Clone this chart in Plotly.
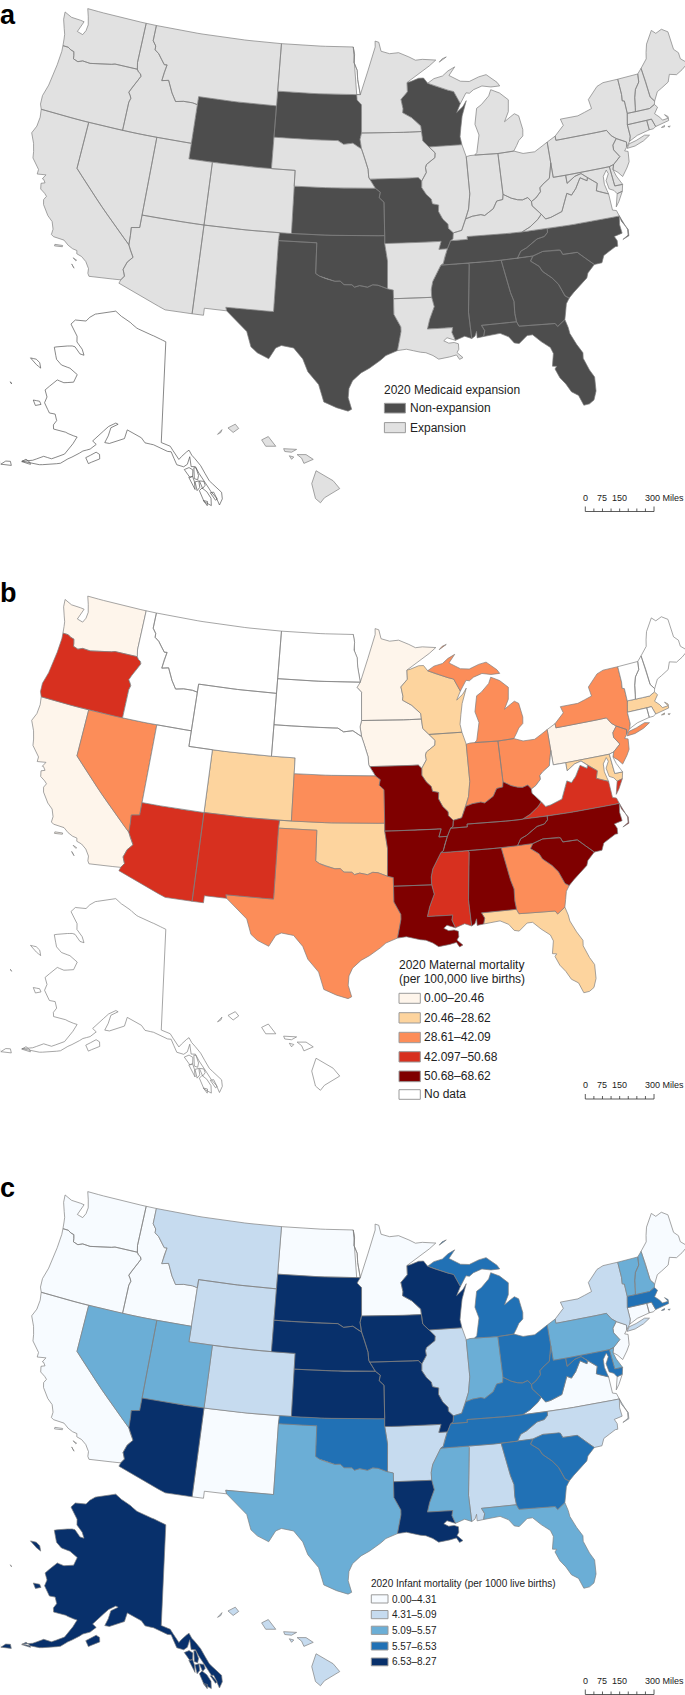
import numpy as np
import plotly.graph_objects as go

# ---------- shared borders (lon, lat) ----------
COLUMBIA = [(-124.0,46.27),(-123.5,46.27),(-123.2,46.15),(-122.9,46.1),(-122.8,45.85),(-122.75,45.65),(-122.3,45.55),(-121.9,45.68),(-121.2,45.65),(-120.6,45.73),(-119.9,45.85),(-119.3,45.93),(-119.0,46.0),(-116.92,46.0)]
SNAKE = [(-116.92,46.0),(-116.78,45.85),(-116.55,45.75),(-116.47,45.6),(-116.67,45.3),(-116.85,45.0),(-117.05,44.75),(-117.22,44.45),(-117.03,44.25),(-116.93,44.1),(-117.03,43.83)]
BITTERROOT = [(-116.05,49),(-116.05,48.0),(-115.72,47.7),(-115.7,47.45),(-115.3,47.25),(-114.95,46.93),(-114.6,46.63),(-114.35,46.65),(-114.48,46.15),(-114.55,45.6),(-113.95,45.7),(-113.45,44.95),(-113.0,44.45),(-112.3,44.55),(-111.5,44.55),(-111.05,44.48)]
COLORADO_R = [(-114.72,32.72),(-114.5,33.0),(-114.7,33.4),(-114.5,33.9),(-114.13,34.27),(-114.45,34.7),(-114.63,35.0)]
COLORADO_N = [(-114.63,35.0),(-114.65,35.6),(-114.7,36.1),(-114.35,36.15),(-114.05,36.2)]
RED_N = [(-97.23,49),(-97.1,48.5),(-97.15,48),(-96.85,47.5),(-96.8,46.9),(-96.56,45.94)]
SD_NE = [(-104.05,43),(-98.5,43),(-98,42.77),(-97.2,42.85),(-96.7,42.6),(-96.45,42.49)]
MISSOURI_IA = [(-96.45,42.49),(-96.25,42.05),(-96.1,41.7),(-95.9,41.2),(-95.85,40.7),(-95.77,40.58)]
MISSOURI_KS = [(-95.31,40.0),(-94.9,39.75),(-95.0,39.4),(-94.61,39.11)]
BIG_SIOUX = [(-96.45,43.5),(-96.58,43.1),(-96.45,42.49)]
RED_S = [(-94.48,33.64),(-95.2,33.87),(-95.6,33.9),(-96.0,33.75),(-96.6,33.85),(-97.0,33.75),(-97.2,33.9),(-97.8,33.9),(-98.1,34.12),(-98.5,34.1),(-99.2,34.25),(-99.7,34.4),(-100.0,34.56)]
SABINE = [(-94.04,33.0),(-94.04,32.0),(-93.55,31.2),(-93.55,30.9),(-93.7,30.3),(-93.85,29.7)]
MISS_MN = [(-92.8,44.75),(-92.0,44.4),(-91.25,43.85),(-91.22,43.5)]
MISS_WI = [(-91.22,43.5),(-91.15,42.9),(-90.64,42.5)]
MISS_IL_IA = [(-90.64,42.5),(-90.15,42.1),(-90.2,41.8),(-90.95,41.4),(-91.05,41.2),(-91.0,40.9),(-91.42,40.38)]
MISS_IL_MO = [(-91.42,40.38),(-91.45,39.95),(-91.1,39.5),(-90.72,39.2),(-90.65,38.9),(-90.15,38.8),(-90.2,38.4),(-89.9,37.9),(-89.5,37.55),(-89.5,37.3),(-89.13,36.98)]
MISS_AR = [(-89.7,36.0),(-89.95,35.5),(-90.1,35.1),(-90.3,35.0)]
MISS_AR2 = [(-90.3,35.0),(-90.6,34.6),(-91.0,34.0),(-91.15,33.5),(-91.15,33.0)]
MISS_LA = [(-91.15,33.0),(-91.0,32.4),(-91.4,31.6),(-91.6,31.0)]
ST_CROIX = [(-92.29,46.66),(-92.29,46.07),(-92.9,45.6),(-92.75,45.0),(-92.8,44.75)]
OHIO_IL = [(-89.13,36.98),(-88.45,37.1),(-88.05,37.8)]
OHIO_IN = [(-88.05,37.8),(-87.5,37.93),(-86.8,37.98),(-86.5,37.9),(-86.3,38.0),(-85.75,38.27),(-85.4,38.73),(-84.9,38.78),(-84.82,39.1)]
OHIO_OH = [(-84.82,39.1),(-84.2,38.8),(-83.7,38.65),(-83.3,38.6),(-82.85,38.7),(-82.6,38.42)]
OHIO_WV = [(-82.6,38.42),(-82.2,38.6),(-81.75,38.95),(-81.75,39.2),(-81.45,39.4),(-80.85,39.7),(-80.67,40.2),(-80.52,40.64)]
WABASH = [(-88.05,37.8),(-87.75,38.4),(-87.53,39.35)]
SAVANNAH = [(-83.11,35.0),(-83.35,34.7),(-82.75,34.3),(-82.55,33.95),(-81.9,33.45),(-81.5,33.0),(-81.15,32.2),(-80.87,32.03)]
CHATT = [(-85.6,34.98),(-85.18,32.87),(-85.0,32.3),(-85.05,31.54),(-85.0,31.0)]
POTOMAC = [(-76.33,38.05),(-77.0,38.3),(-77.25,38.4),(-77.05,38.85),(-77.5,39.15),(-77.75,39.32)]
MD_WV = [(-77.75,39.32),(-78.2,39.65),(-78.75,39.55),(-79.48,39.2),(-79.48,39.72)]
VA_WV = [(-77.75,39.32),(-77.83,39.13),(-78.35,39.4),(-78.87,38.77),(-79.3,38.42),(-79.65,38.58),(-80.3,37.5),(-81.25,37.25),(-81.68,37.2),(-81.97,37.54)]
TUG = [(-81.97,37.54),(-82.6,38.15),(-82.6,38.42)]
KY_VA = [(-83.68,36.6),(-83.0,36.85),(-82.3,37.25),(-81.97,37.54)]
KY_TN = [(-89.4,36.5),(-88.07,36.5),(-88.07,36.68),(-86.5,36.65),(-85.0,36.62),(-83.68,36.6)]
TN_NC = [(-84.32,34.99),(-84.0,35.4),(-83.5,35.57),(-83.1,35.78),(-82.6,36.03),(-82.0,36.12),(-81.7,36.35),(-81.68,36.59)]
NC_SC = [(-83.11,35.0),(-82.3,35.2),(-81.05,35.15),(-80.93,35.1),(-80.8,34.82),(-79.67,34.8),(-78.55,33.85)]
DELAWARE_R = [(-75.4,39.8),(-74.75,40.2),(-75.13,40.7),(-75.1,41.0),(-74.7,41.36)]
CT_R = [(-71.5,45.01),(-71.6,44.5),(-72.05,44.1),(-72.3,43.6),(-72.45,43.0),(-72.55,42.73)]
MI_WI = [(-90.4,46.55),(-89.1,46.14),(-88.1,45.9),(-87.8,45.35),(-87.6,45.1)]

# ---------- state outlines (lon, lat) ----------
STATES = {
 'WA': [COLUMBIA + [(-117.04,46.42),(-117.04,49),(-122.76,49),(-122.5,48.5),(-122.3,48.0),(-122.35,47.6),(-122.55,47.3),(-123.1,47.4),(-122.75,48.12),(-123.1,48.15),(-124.0,48.17),(-124.72,48.38),(-124.65,47.9),(-124.35,47.35),(-124.15,47.0),(-124.08,46.7)]],
 'OR': [COLUMBIA + SNAKE + [(-117.03,42),(-124.21,42),(-124.4,42.3),(-124.45,42.85),(-124.2,43.6),(-124.1,44.3),(-124.0,45.0),(-123.95,45.9)]],
 'CA': [[(-124.21,42),(-120,42),(-120,39),(-114.63,35)] + COLORADO_R[::-1] + [(-117.12,32.53),(-117.25,32.7),(-117.28,33.0),(-117.6,33.4),(-118.0,33.65),(-118.4,33.75),(-118.45,33.95),(-118.8,34.0),(-119.2,34.15),(-119.6,34.4),(-120.45,34.45),(-120.65,34.55),(-120.63,34.9),(-120.85,35.35),(-121.3,35.65),(-121.85,36.25),(-121.95,36.55),(-121.8,36.8),(-122.0,36.95),(-122.4,37.15),(-122.5,37.5),(-122.2,37.6),(-122.4,37.8),(-122.5,37.8),(-122.3,38.1),(-123.0,38.0),(-123.0,38.3),(-123.7,38.9),(-123.8,39.3),(-124.0,39.8),(-124.4,40.4),(-124.15,40.9),(-124.1,41.5)],
        [(-120.2,34.0),(-119.6,34.05),(-119.6,33.97),(-120.2,33.9)],
        [(-118.6,33.45),(-118.3,33.35),(-118.35,33.3)],
        [(-118.6,33.05),(-118.35,32.82),(-118.5,33.0)]],
 'NV': [[(-120,42),(-114.04,42),(-114.05,36.2)] + COLORADO_N[::-1] + [(-120,39)]],
 'ID': [[(-117.04,49)] + BITTERROOT + [(-111.05,42),(-117.03,42),(-117.03,43.83)] + SNAKE[::-1] + [(-117.04,46.42)]],
 'MT': [[(-116.05,49),(-104.05,49),(-104.05,45),(-111.05,45)] + BITTERROOT[::-1]],
 'WY': [[(-111.05,45),(-104.05,45),(-104.05,41),(-111.05,41)]],
 'UT': [[(-114.04,42),(-111.05,42),(-111.05,41),(-109.05,41),(-109.05,37),(-114.05,37)]],
 'AZ': [[(-114.05,37),(-109.05,37),(-109.05,31.33),(-111.07,31.33),(-114.81,32.49)] + COLORADO_R + COLORADO_N],
 'NM': [[(-109.05,37),(-103.0,37),(-103.04,36.5),(-103.04,32.0),(-106.62,32.0),(-106.53,31.78),(-108.2,31.78),(-108.2,31.33),(-109.05,31.33)]],
 'CO': [[(-109.05,41),(-102.05,41),(-102.05,37),(-109.05,37)]],
 'ND': [[(-104.05,49)] + RED_N + [(-104.05,45.94)]],
 'SD': [[(-104.05,45.94),(-96.56,45.94),(-96.85,45.6),(-96.45,45.3)] + BIG_SIOUX + SD_NE[::-1]],
 'NE': [SD_NE + MISSOURI_IA + [(-95.31,40.0),(-102.05,40),(-102.05,41),(-104.05,41)]],
 'KS': [[(-102.05,40)] + MISSOURI_KS + [(-94.61,37),(-102.05,37)]],
 'OK': [[(-103.0,37),(-94.61,37),(-94.62,36.5),(-94.43,35.4)] + RED_S + [(-100,36.5),(-103.04,36.5)]],
 'TX': [[(-103.04,36.5),(-100,36.5)] + RED_S[::-1] + [(-94.04,33.55)] + SABINE + [(-94.7,29.4),(-95.1,29.1),(-95.9,28.6),(-96.5,28.3),(-97.1,27.8),(-97.35,27.3),(-97.4,26.7),(-97.15,25.96),(-97.4,25.84),(-98.2,26.05),(-99.1,26.4),(-99.5,27.5),(-100.3,28.3),(-100.7,29.1),(-101.4,29.77),(-102.3,29.88),(-102.7,29.7),(-103.15,28.98),(-104.0,29.3),(-104.5,29.65),(-104.9,30.6),(-106.0,31.4),(-106.53,31.78),(-106.62,32),(-103.04,32)]],
 'MN': [RED_N[::-1] + [(-96.85,45.6),(-96.45,45.3),(-96.45,43.5)] + MISS_MN[::-1] + ST_CROIX[::-1] + [(-92.1,46.75),(-90.8,47.3),(-89.5,48.0),(-90.75,48.1),(-91.4,48.07),(-92.0,48.3),(-92.95,48.6),(-93.8,48.55),(-94.6,48.72),(-94.8,49.3),(-95.15,49.38),(-95.15,49)]],
 'IA': [[(-96.45,43.5)] + MISS_WI + MISS_IL_IA + [(-91.7,40.6)] + MISSOURI_IA[::-1] + BIG_SIOUX[::-1][:-1]],
 'MO': [[(-95.77,40.58),(-91.7,40.6)] + MISS_IL_MO + [(-89.2,36.6),(-89.4,36.5),(-89.7,36.0),(-90.37,36.0),(-90.15,36.5),(-94.62,36.5),(-94.61,37)] + MISSOURI_KS[::-1]],
 'AR': [[(-94.62,36.5),(-90.15,36.5),(-90.37,36.0)] + MISS_AR + MISS_AR2 + [(-94.04,33.0),(-94.04,33.55),(-94.48,33.64),(-94.43,35.4)]],
 'LA': [[(-94.04,33)] + MISS_LA + [(-89.73,31.0),(-89.82,30.7),(-89.6,30.18),(-89.8,30.25),(-90.2,30.38),(-90.45,30.2),(-90.1,30.03),(-89.7,30.05),(-89.4,29.95),(-89.4,29.6),(-89.55,29.4),(-89.15,29.05),(-89.4,28.95),(-89.6,29.25),(-90.1,29.15),(-90.9,29.05),(-91.3,29.3),(-91.8,29.5),(-92.2,29.55),(-93.2,29.77)] + SABINE[::-1]],
 'MS': [[(-90.3,35),(-88.2,35),(-88.1,34.9),(-88.47,31.9),(-88.4,30.22),(-88.9,30.4),(-89.6,30.18),(-89.82,30.7),(-89.73,31)] + MISS_LA[::-1] + MISS_AR2[::-1]],
 'AL': [[(-88.2,35)] + CHATT + [(-87.6,31.0),(-87.4,30.65),(-87.52,30.28),(-88.0,30.23),(-88.0,30.65),(-88.15,30.35),(-88.4,30.22),(-88.47,31.9),(-88.1,34.9)]],
 'GA': [CHATT[:1] + SAVANNAH + [(-81.15,31.7),(-81.3,31.2),(-81.45,30.72),(-82.05,30.36),(-82.2,30.57),(-84.86,30.7)] + CHATT[::-1][:-1]],
 'FL': [[(-87.52,30.28),(-87.4,30.65),(-87.6,31),(-85,31),(-84.86,30.7),(-82.2,30.57),(-82.05,30.36),(-81.45,30.72),(-81.3,30.2),(-81.25,29.8),(-80.9,29.05),(-80.55,28.45),(-80.6,28.1),(-80.3,27.3),(-80.03,26.8),(-80.1,25.9),(-80.35,25.35),(-80.7,25.15),(-81.1,25.12),(-81.35,25.8),(-81.8,26.1),(-82.1,26.65),(-82.45,27.1),(-82.7,27.7),(-82.55,27.85),(-82.85,27.9),(-82.65,28.7),(-82.8,29.1),(-83.4,29.55),(-83.95,30.05),(-84.35,30.05),(-85.0,29.6),(-85.35,29.68),(-85.7,30.1),(-86.3,30.38)]],
 'SC': [SAVANNAH + [(-80.45,32.35),(-79.9,32.7),(-79.3,33.1),(-79.15,33.4)] + NC_SC[::-1]],
 'NC': [[(-84.32,34.99)] + NC_SC + [(-77.95,33.87),(-77.7,34.3),(-76.7,34.7),(-76.5,34.7),(-76.45,35.05),(-76.6,35.35),(-75.95,35.45),(-76.0,36.0),(-75.87,36.55)] + TN_NC[::-1],
        [(-76.0,35.05),(-75.53,35.25),(-75.47,35.6),(-75.75,36.2),(-75.87,36.55),(-75.8,36.2),(-75.42,35.6),(-75.48,35.2)]],
 'TN': [MISS_AR[::-1][:1] + [(-88.2,35),(-85.6,34.98)] + TN_NC + [(-83.68,36.6)] + KY_TN[::-1][1:] + [(-89.4,36.5),(-89.7,36.0),(-89.95,35.5),(-90.1,35.1)]],
 'KY': [KY_TN + KY_VA[1:] + TUG[1:] + OHIO_OH[::-1][1:] + OHIO_IN[::-1][1:] + OHIO_IL[::-1][1:] + [(-89.2,36.6)]],
 'OH': [[(-84.82,41.7),(-83.45,41.73),(-82.7,41.5),(-81.7,41.5),(-80.52,41.98),(-80.52,40.64)] + OHIO_WV[::-1][1:] + OHIO_OH[::-1][1:]],
 'IN': [[(-87.53,41.71),(-87.2,41.76),(-86.8,41.76),(-84.82,41.7)] + OHIO_IN[::-1] + WABASH[1:]],
 'IL': [[(-90.64,42.5),(-87.8,42.49),(-87.53,41.71),(-87.53,39.35)] + WABASH[::-1][1:] + OHIO_IL[::-1][1:] + MISS_IL_MO[::-1][1:] + MISS_IL_IA[::-1][1:]],
 'WI': [MISS_WI[::-1] + MISS_MN[::-1] + ST_CROIX[::-1][1:] + [(-92.0,46.7),(-91.2,46.9),(-90.75,46.9)] + MI_WI + [(-88.0,44.55),(-87.4,44.9),(-87.05,45.25),(-87.55,44.3),(-87.75,43.6),(-87.9,43.0),(-87.8,42.49)]],
 'MI': [[(-86.8,41.76),(-84.82,41.7),(-83.45,41.73),(-83.15,42.05),(-82.9,42.35),(-82.5,42.6),(-82.42,43.0),(-82.6,43.9),(-82.95,44.07),(-83.35,43.9),(-83.9,43.65),(-83.45,44.25),(-83.3,45.0),(-84.0,45.5),(-84.75,45.78),(-85.0,45.4),(-85.55,45.0),(-85.75,44.9),(-86.2,44.7),(-86.5,43.7),(-86.25,43.0),(-86.6,41.9)],
        MI_WI + [(-87.0,45.75),(-86.7,45.7),(-86.3,45.9),(-85.5,46.08),(-84.7,45.95),(-83.9,45.95),(-84.1,46.2),(-84.55,46.47),(-85.0,46.77),(-85.7,46.68),(-86.6,46.45),(-87.4,46.52),(-88.4,46.95),(-87.8,47.47),(-88.45,47.25),(-89.0,46.95),(-89.8,46.82)],
        [(-89.2,47.85),(-88.5,48.15),(-88.9,48.05)]],
 'PA': [[(-80.52,41.98),(-79.76,42.27),(-79.76,42.0),(-75.35,42.0),(-75.05,41.6)] + DELAWARE_R[::-1] + [(-75.79,39.72),(-79.48,39.72),(-80.52,39.72),(-80.52,40.64)]],
 'NY': [[(-79.76,42.27),(-78.9,42.85),(-79.05,43.27),(-77.5,43.27),(-76.2,43.55),(-76.3,44.15),(-75.3,44.85),(-74.7,45.0),(-73.35,45.0),(-73.35,44.0),(-73.43,43.6),(-73.25,43.55),(-73.27,42.75),(-73.5,42.05),(-73.5,41.3),(-73.65,41.0),(-73.9,40.8),(-74.0,40.7),(-73.92,41.0),(-74.7,41.36),(-75.05,41.6),(-75.35,42),(-79.76,42)],
        [(-74.0,40.6),(-73.75,40.85),(-73.1,40.95),(-72.3,41.15),(-71.9,41.07),(-72.5,40.82),(-73.3,40.63)]],
 'NJ': [[(-74.7,41.36),(-73.92,41.0),(-74.0,40.7),(-74.25,40.48),(-73.98,40.4),(-74.1,39.75),(-74.4,39.4),(-74.9,38.93),(-75.2,39.25),(-75.55,39.5)] + DELAWARE_R],
 'DE': [[(-75.79,39.72),(-75.4,39.8),(-75.55,39.5),(-75.4,39.05),(-75.05,38.45),(-75.7,38.46)]],
 'MD': [[(-79.48,39.72),(-75.79,39.72),(-75.7,38.46),(-75.05,38.45),(-75.2,38.03),(-75.65,37.95),(-75.85,38.2),(-76.2,38.35),(-76.3,38.9),(-76.0,39.3),(-76.1,39.55),(-76.45,39.2),(-76.5,38.7),(-76.4,38.3)] + POTOMAC + MD_WV[1:-1]],
 'VA': [[(-83.68,36.6),(-81.68,36.59),(-75.87,36.55),(-76.0,36.92),(-76.3,37.0),(-76.3,37.55),(-76.3,37.9)] + POTOMAC + VA_WV[1:] + KY_VA[::-1][1:],
        [(-75.2,38.03),(-75.65,37.95),(-75.95,37.15),(-75.65,37.45)]],
 'WV': [[(-80.52,40.64),(-80.52,39.72)] + MD_WV[::-1][:-1] + VA_WV + TUG[1:] + OHIO_WV[1:]],
 'CT': [[(-73.5,42.05),(-71.8,42.02),(-71.8,41.4),(-72.9,41.25),(-73.65,41.0),(-73.5,41.3)]],
 'RI': [[(-71.8,42.02),(-71.38,42.02),(-71.2,41.5),(-71.45,41.4),(-71.8,41.4)]],
 'MA': [[(-73.5,42.05),(-73.27,42.75),(-72.55,42.73),(-71.3,42.7),(-70.8,42.87),(-70.6,42.65),(-71.0,42.3),(-70.65,42.0),(-70.5,41.78),(-70.0,41.8),(-70.2,42.08),(-69.95,41.9),(-70.0,41.65),(-70.65,41.55),(-71.2,41.5),(-71.38,42.02)],
        [(-70.75,41.35),(-70.45,41.42),(-70.5,41.33)],
        [(-70.2,41.3),(-70.0,41.28),(-70.1,41.24)]],
 'VT': [[(-73.35,45.0)] + CT_R + [(-73.27,42.75),(-73.25,43.55),(-73.43,43.6),(-73.35,44)]],
 'NH': [CT_R + [(-71.3,42.7),(-70.8,42.87),(-70.7,43.07),(-70.98,43.4),(-71.0,44.4),(-71.08,45.3)]],
 'ME': [[(-71.08,45.3),(-70.4,45.8),(-70.25,46.2),(-70.0,46.7),(-69.22,47.46),(-68.9,47.2),(-68.3,47.35),(-67.79,47.07),(-67.78,45.9),(-67.45,45.6),(-67.45,45.2),(-66.95,44.8),(-67.6,44.5),(-68.2,44.3),(-68.8,44.45),(-69.1,44.0),(-69.8,43.75),(-70.25,43.6),(-70.7,43.07),(-70.98,43.4),(-71,44.4)]],
}
ALASKA = [
 [(-156.5,71.35),(-155,71.1),(-152,70.85),(-150,70.45),(-147,70.2),(-144,70.0),(-141,69.65),(-141,60.3),(-139.2,60.05),(-137.5,58.9),(-136.5,59.45),(-135.5,59.8),(-135.0,59.35),(-133.8,58.7),(-133.4,58.4),(-132.0,57.0),(-130.5,56.2),(-130.0,55.9),(-130.0,55.3),(-130.6,54.75),(-131.0,55.4),(-131.8,55.95),(-132.5,56.6),(-133.1,57.1),(-133.8,57.7),(-134.4,58.3),(-135.2,58.3),(-135.4,59.2),(-135.9,58.5),(-136.6,58.25),(-137.9,58.4),(-139.0,59.55),(-139.7,59.55),(-140.8,59.75),(-142.5,60.0),(-144.2,60.05),(-145,60.45),(-146.5,60.7),(-148,60.9),(-148.3,60.05),(-149.5,59.7),(-151.0,59.25),(-151.9,59.2),(-151.5,59.9),(-151.3,60.7),(-150.0,61.2),(-150.5,61.25),(-151.8,60.75),(-152.6,60.2),(-153.5,59.5),(-154.2,59.0),(-153.4,58.8),(-154.3,58.2),(-155.5,57.8),(-156.5,57.2),(-157.7,56.6),(-158.7,55.95),(-160.5,55.4),(-162.0,55.0),(-163.2,54.85),(-164.9,54.55),(-163.3,55.1),(-161.8,55.9),(-160.4,56.0),(-158.5,56.9),(-157.6,58.1),(-157.2,58.85),(-158.5,58.8),(-159.5,58.85),(-160.5,58.75),(-161.8,58.65),(-162.1,59.0),(-161.8,59.5),(-162.5,60.0),(-163.6,59.85),(-165.2,60.5),(-165.2,61.1),(-166.1,61.6),(-165.6,62.1),(-164.6,63.0),(-163.1,63.05),(-161.2,63.5),(-161.0,64.3),(-162.5,64.5),(-163.0,64.55),(-165.0,64.45),(-166.5,64.7),(-168.1,65.6),(-166.5,66.1),(-164.4,66.55),(-163.7,66.6),(-162,66.2),(-161.0,66.25),(-161.9,66.7),(-163.7,67.1),(-164.2,67.6),(-166.8,68.35),(-166.2,68.9),(-163.5,69.3),(-162.9,69.8),(-161.8,70.3),(-159.5,70.8)],
 [(-154.7,57.3),(-154.0,56.85),(-153.0,57.3),(-152.2,57.6),(-152.4,58.0),(-153.1,58.1),(-154.0,57.65)],
 [(-167.4,60.2),(-166.6,59.85),(-165.7,60.2),(-166.2,60.4)],
 [(-171.7,63.5),(-170.5,63.3),(-168.8,63.2),(-169.5,63.6),(-170.5,63.7)],
 [(-172.9,60.5),(-172.6,60.35),(-172.5,60.4)],
 [(-167.8,53.3),(-166.2,53.7),(-166.6,54.0),(-167.3,53.8)],
 [(-169,52.85),(-168,53.3),(-168.2,53.5),(-169,53.1)],
 [(-164.9,54.5),(-164.3,54.55),(-163.4,54.65),(-163.6,54.8),(-164.4,54.9)],
 [(-136.5,58.0),(-135.5,57.3),(-135.0,57.4),(-134.9,58.0),(-135.6,58.2)],
 [(-135.7,57.3),(-134.9,56.4),(-134.65,56.2),(-134.7,56.9),(-135,57.4)],
 [(-134.7,58.2),(-134.7,57.2),(-134.1,57.1),(-133.9,57.5),(-134.3,58.2)],
 [(-134.6,56.9),(-134.3,56.1),(-133.8,56.4),(-133.9,57.0)],
 [(-133.8,57.0),(-133.3,56.3),(-132.8,56.6),(-133,56.95)],
 [(-133.9,56.1),(-133.2,55.1),(-132.0,54.72),(-131.95,55.4),(-132.6,56.0),(-133.4,56.35)],
 [(-132.0,55.9),(-131.2,55.2),(-130.9,55.3),(-131.4,55.95)],
 [(-133.3,55.2),(-132.7,54.72),(-132.6,55.1)],
]
HAWAII = [
 [(-155.86,20.27),(-155.1,19.85),(-154.81,19.52),(-155.5,19.13),(-155.68,18.92),(-155.9,19.1),(-156.06,19.73)],
 [(-156.7,20.95),(-156.3,20.95),(-155.98,20.75),(-156.4,20.58),(-156.5,20.8)],
 [(-157.3,21.2),(-156.72,21.17),(-156.95,21.05),(-157.25,21.08)],
 [(-157.05,20.9),(-156.85,20.85),(-156.95,20.75)],
 [(-158.28,21.57),(-157.98,21.71),(-157.65,21.3),(-158.1,21.3)],
 [(-159.78,22.07),(-159.45,22.23),(-159.3,22.05),(-159.55,21.88)],
 [(-160.25,21.8),(-160.05,22.0),(-160.1,21.88)],
]

# ---------- what the three maps show ----------
NO_DATA_WHITE = '#ffffff'
A_CLASSES = ['Non-expansion', 'Expansion']
A_COLORS = ['#4d4d4d', '#e1e1e1']
A_STATES = {
 'Non-expansion': ['WY','SD','WI','KS','MO','OK','TX','TN','MS','AL','GA','SC','NC','FL'],
 'Expansion': ['WA','OR','CA','NV','ID','MT','UT','AZ','NM','CO','ND','NE','MN','IA','AR','LA','IL','IN','MI','OH','KY','WV','VA','MD','DE','PA','NJ','NY','CT','RI','MA','VT','NH','ME','HI'],
 'None': ['AK'],
}
B_CLASSES = ['0.00–20.46', '20.46–28.62', '28.61–42.09', '42.097–50.68', '50.68–68.62', 'No data']
B_COLORS = ['#fef5eb', '#fdd49e', '#fc8d59', '#d7301f', '#7f0000', NO_DATA_WHITE]
B_STATES = {
 '0.00–20.46': ['WA','CA','MN','IA','PA'],
 '20.46–28.62': ['WI','IL','CO','OK','FL','MD','MA'],
 '28.61–42.09': ['NV','KS','TX','GA','MI','IN','OH','NY','NJ'],
 '42.097–50.68': ['OR','AZ','NM','MS','VA'],
 '50.68–68.62': ['MO','AR','LA','AL','KY','TN','NC','SC'],
 'No data': ['ID','MT','ND','SD','WY','UT','NE','WV','VT','NH','ME','CT','RI','DE','AK','HI'],
}
C_CLASSES = ['0.00–4.31', '4.31–5.09', '5.09–5.57', '5.57–6.53', '6.53–8.27']
C_COLORS = ['#f7fbff', '#c6dbef', '#6baed6', '#2171b5', '#08306b']
C_STATES = {
 '0.00–4.31': ['WA','OR','CA','ID','ND','MN','NM','VA','ME','CT','NJ','RI'],
 '4.31–5.09': ['MT','WY','CO','NY','IL','AR','AL','NC','HI'],
 '5.09–5.57': ['NV','UT','TX','MS','IN','FL','PA','VT','NH','DE'],
 '5.57–6.53': ['OK','MI','OH','WV','KY','TN','GA','SC','MD','MA'],
 '6.53–8.27': ['AZ','SD','NE','KS','IA','MO','WI','LA','AK'],
}

# ---------- map projections ----------
def albers(lon, lat, lon0, lat0, p1, p2):
    lon, lat = np.radians(lon), np.radians(lat)
    lon0, lat0, p1, p2 = map(np.radians, (lon0, lat0, p1, p2))
    n = (np.sin(p1) + np.sin(p2)) / 2
    c = np.cos(p1) ** 2 + 2 * n * np.sin(p1)
    rho = np.sqrt(c - 2 * n * np.sin(lat)) / n
    rho0 = np.sqrt(c - 2 * n * np.sin(lat0)) / n
    th = n * (lon - lon0)
    return rho * np.sin(th), rho0 - rho * np.cos(th)

def proj48(lon, lat): return albers(lon, lat, -96, 37.5, 29.5, 45.5)
def projak(lon, lat): return albers(lon, lat, -154, 50, 55, 65)
def projhi(lon, lat): return np.asarray(lon, float), np.asarray(lat, float)

# registration of each projection on the page: (lon, lat, page x, page y)
REG48 = [(-124.72,48.38,66.4,11.8),(-122.76,49,89.6,9.1),(-116.05,49,147.2,23.7),(-104.05,49,280.5,44),(-97.23,49,353,48.3),(-95.15,49.38,374.8,41.6),(-97.4,25.84,347.3,411.4),(-81.1,25.12,583.2,404.7),(-66.95,44.8,683.7,62.5),(-69.22,47.46,659.7,29.7),(-114.81,32.49,120.1,280.6),(-109.05,41,212,164),(-102.05,41,293.6,170.7),(-109.05,37,204.5,224.8),(-102.05,37,290.5,233.3),(-111.05,41,189.2,158.2),(-111.05,45,200,97),(-104.05,45,276,105.8),(-91.15,33,430.3,298.5),(-124.21,42,42.4,109.2),(-120,39,78.6,168),(-114.63,35,130.2,244),(-117.25,32.7,89.6,275.5)]
REGAK = [(-156.5,71.35,120,312),(-141,69.65,170.7,342),(-141,60.3,160.7,442.7),(-168.1,65.6,52.3,347),(-166.8,68.35,72.7,323.7),(-154.5,57.0,78.3,463.7),(-130.6,54.75,220,503.7),(-170,63.4,30,362),(-166.5,60.1,28.3,403),(-169,53,7.3,462.7)]
REGHI = [(-155.68,18.92,320,502.5),(-154.81,19.52,340,488.5),(-155.86,20.27,315.7,470.8),(-156.06,19.73,312.3,484.2),(-159.5,22.05,234,428.5),(-157.98,21.47,268.3,442.5),(-156.35,20.78,305,458.2),(-160.15,21.9,220,431.8)]

def fit(proj, reg):
    r = np.array(reg, float)
    X, Y = proj(r[:, 0], r[:, 1])
    A = np.c_[X, Y, np.ones(len(r))]
    cx = np.linalg.lstsq(A, r[:, 2], rcond=None)[0]
    cy = np.linalg.lstsq(A, r[:, 3], rcond=None)[0]
    def f(lon, lat):
        X, Y = proj(np.asarray(lon, float), np.asarray(lat, float))
        return cx[0]*X + cx[1]*Y + cx[2], cy[0]*X + cy[1]*Y + cy[2]
    return f

F48, FAK, FHI = fit(proj48, REG48), fit(projak, REGAK), fit(projhi, REGHI)

def densify(ring):
    out = []
    n = len(ring)
    for i in range(n):
        a, b = ring[i], ring[(i + 1) % n]
        steps = max(1, int(abs(a[0] - b[0]) / 0.5))
        for k in range(steps):
            t = k / steps
            out.append((a[0] + (b[0]-a[0])*t, a[1] + (b[1]-a[1])*t))
    out.append(out[0])
    return out

def rings_of(code):
    if code == 'AK': return ALASKA, FAK
    if code == 'HI': return HAWAII, FHI
    return STATES[code], F48

def xy_of(codes, dy):
    xs, ys = [], []
    for code in codes:
        rings, f = rings_of(code)
        for ring in rings:
            d = np.array(densify(ring))
            x, y = f(d[:, 0], d[:, 1])
            xs += list(np.round(x, 2)) + [None]
            ys += list(np.round(y + dy, 2)) + [None]
    return xs, ys

# ---------- figure ----------
FONT = 'Liberation Sans, Arial, sans-serif'
BORDER = '#808080'
fig = go.Figure()
shapes, notes = [], []

def txt(x, y, s, size=12, anchor='left', bold=False, va='middle'):
    notes.append(dict(x=x, y=y, text=f'<b>{s}</b>' if bold else s, showarrow=False, xanchor=anchor,
                      yanchor=va, xref='x', yref='y', borderpad=0, borderwidth=0,
                      font=dict(family=FONT, size=size, color='#000000' if bold else '#222222')))

def draw_map(classes, colors, groups, dy):
    for name, col in list(zip(classes, colors)) + ([('None', NO_DATA_WHITE)] if 'None' in groups else []):
        x, y = xy_of(groups[name], dy)
        fig.add_trace(go.Scatter(x=x, y=y, mode='lines', fill='toself', fillcolor=col, name=name,
                                 line=dict(color=BORDER if name != 'None' else '#555555', width=0.7),
                                 hoverinfo='skip', showlegend=False))

def scale_bar(dy):
    y0, x0, step = 511.5 + dy, 585.3, 8.59
    shapes.append(dict(type='line', x0=x0, x1=x0 + 8*step, y0=y0, y1=y0, line=dict(color='#333333', width=0.8)))
    for i in range(9):
        h = 5 if i in (0, 8) else 3
        shapes.append(dict(type='line', x0=x0 + i*step, x1=x0 + i*step, y0=y0, y1=y0 - h, line=dict(color='#333333', width=0.8)))
    for xc, s in ((585, '0'), (601.7, '75'), (619, '150')):
        txt(xc, 497.5 + dy, s, size=9, anchor='center')
    txt(645.3, 497.5 + dy, '300 Miles', size=9)

def swatch(x0, x1, y0, y1, col):
    shapes.append(dict(type='rect', x0=x0, x1=x1, y0=y0, y1=y1, fillcolor=col, line=dict(color='#9a9a9a', width=1)))

# panel a
draw_map(A_CLASSES, A_COLORS, A_STATES, 0)
txt(0, 0, 'a', size=27, bold=True, va='top')
txt(384.4, 389.5, '2020 Medicaid expansion')
for (y0, y1, yt), name, col in zip([(403.3, 413, 408.4), (422.6, 432.7, 427.6)], A_CLASSES, A_COLORS):
    swatch(384.4, 405.4, y0, y1, col)
    txt(409.8, yt, name)
scale_bar(0)

# panel b
draw_map(B_CLASSES, B_COLORS, B_STATES, 587.5)
txt(0, 578, 'b', size=27, bold=True, va='top')
txt(399.3, 965, '2020 Maternal mortality')
txt(399.3, 979.3, '(per 100,000 live births)')
for (y0, y1, yt), name, col in zip([(993.3, 1003.3, 998.3), (1012.7, 1023, 1017.7), (1032.3, 1042.7, 1037), (1051.7, 1062, 1056.7), (1071, 1081.7, 1076), (1089.7, 1099.3, 1094.3)], B_CLASSES, B_COLORS):
    swatch(399, 420.3, y0, y1, col)
    txt(424, yt, name)
scale_bar(587.5)

# panel c
draw_map(C_CLASSES, C_COLORS, C_STATES, 1183)
txt(0, 1173, 'c', size=27, bold=True, va='top')
txt(370.5, 1583, '2020 Infant mortality (per 1000 live births)', size=10)
for (y0, y1, yt), name, col in zip([(1594.8, 1603, 1599), (1610.5, 1618.7, 1614.3), (1626.2, 1634.4, 1630.3), (1642, 1650, 1646), (1658, 1665.8, 1661.7)], C_CLASSES, C_COLORS):
    swatch(371.3, 388, y0, y1, col)
    txt(392.3, yt, name, size=10)
scale_bar(1183)

fig.update_layout(width=685, height=1695, margin=dict(l=0, r=0, t=0, b=0), autosize=False,
                  paper_bgcolor='white', plot_bgcolor='white', shapes=shapes, annotations=notes,
                  xaxis=dict(range=[0, 685], visible=False, fixedrange=True),
                  yaxis=dict(range=[1695, 0], visible=False, fixedrange=True))
fig.write_html('out.html', post_script="document.body.style.margin='0';", config={'displayModeBar': False})
